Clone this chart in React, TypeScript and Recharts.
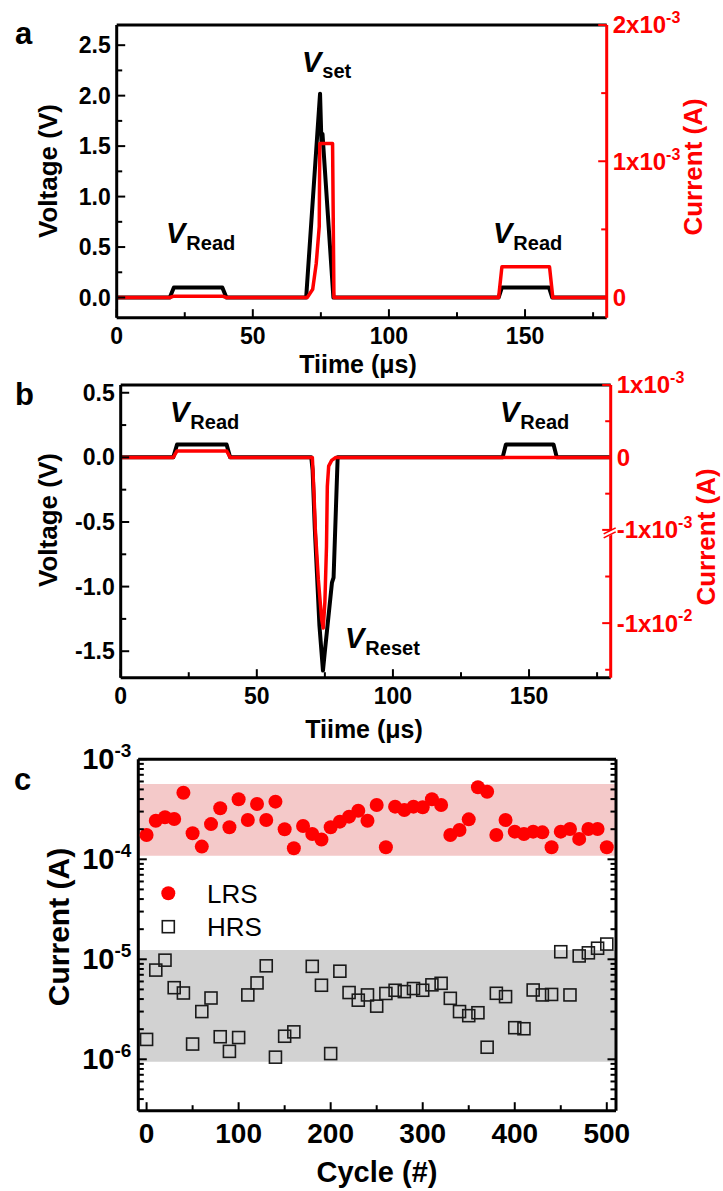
import React from 'react';
import { LineChart, Line, XAxis, YAxis, ReferenceLine, ReferenceArea, ScatterChart, Scatter } from 'recharts';

const FONT = '"Liberation Sans", Arial, Helvetica, sans-serif';
const RED = '#ff0000';

// ---------- Panel a ----------
const timeA_V = [0, 19.5, 21, 38.8, 40.3, 69.6, 74.7, 75.2, 75.6, 79.6, 140.3, 141.5, 158.8, 160, 180];
const voltA = [0, 0, 0.1, 0.1, 0, 0, 2.02, 1.55, 1.62, 0, 0, 0.1, 0.1, 0, 0];
const timeA_I = [0, 19.5, 21, 38.8, 40.3, 70.0, 72.0, 73.3, 74.4, 74.6, 79.3, 79.8, 140.3, 141.5, 159.0, 160.2, 180];
const currA = [0, 0, 0.01e-3, 0.01e-3, 0, 0, 0.06e-3, 0.25e-3, 0.52e-3, 1.13e-3, 1.13e-3, 0, 0, 0.225e-3, 0.225e-3, 0, 0];

// ---------- Panel b ----------
const timeB_V = [0, 19.3, 20.7, 38.9, 40.2, 70.0, 70.5, 71.3, 73.0, 74.3, 75.0, 77.6, 78.2, 79.7, 140.3, 141.5, 159.0, 160.2, 180];
const voltB = [0, 0, 0.1, 0.1, 0, 0, -0.1, -0.55, -1.3, -1.65, -1.5, -0.97, -0.93, 0, 0, 0.1, 0.1, 0, 0];
const timeB_I = [0, 19.3, 20.7, 38.9, 40.2, 70.4, 71.0, 71.5, 72.6, 73.8, 74.4, 75.0, 75.6, 75.9, 76.4, 77.5, 79.0, 180];
const currB = [0, 0, 0.09e-3, 0.09e-3, 0, 0, -0.5e-3, -1.0e-3, -3.4e-3, -9e-3, -1.13e-2, -6e-3, -1.5e-3, -0.4e-3, -0.12e-3, -0.04e-3, 0, 0];

// ---------- Panel c ----------
const cycles = [0, 10, 20, 30, 40, 50, 60, 70, 80, 90, 100, 110, 120, 130, 140, 150, 160, 170, 180, 190, 200, 210, 220, 230, 240, 250, 260, 270, 280, 290, 300, 310, 320, 330, 340, 350, 360, 370, 380, 390, 400, 410, 420, 430, 440, 450, 460, 470, 480, 490, 500];
const lrsCurrent = [1.75e-4, 2.43e-4, 2.63e-4, 2.53e-4, 4.63e-4, 1.82e-4, 1.34e-4, 2.25e-4, 3.24e-4, 2.09e-4, 3.98e-4, 2.47e-4, 3.57e-4, 2.47e-4, 3.77e-4, 2.0e-4, 1.29e-4, 2.15e-4, 1.79e-4, 1.58e-4, 2.09e-4, 2.38e-4, 2.67e-4, 3.06e-4, 2.43e-4, 3.49e-4, 1.32e-4, 3.36e-4, 3.11e-4, 3.36e-4, 3.31e-4, 3.98e-4, 3.49e-4, 1.75e-4, 1.96e-4, 2.51e-4, 5.25e-4, 4.74e-4, 1.75e-4, 2.47e-4, 1.89e-4, 1.79e-4, 1.89e-4, 1.86e-4, 1.32e-4, 1.89e-4, 2.01e-4, 1.6e-4, 2.01e-4, 2.01e-4, 1.32e-4];
const hrsCurrent: (number | null)[] = [1.58e-6, 7.8e-6, 9.8e-6, 5.2e-6, 4.6e-6, 1.42e-6, 3.0e-6, 4.1e-6, 1.68e-6, 1.2e-6, 1.65e-6, 4.4e-6, 5.8e-6, 8.6e-6, 1.05e-6, 1.7e-6, 1.88e-6, null, 8.5e-6, 5.5e-6, 1.14e-6, 7.6e-6, 4.65e-6, 3.9e-6, 4.4e-6, 3.4e-6, 4.55e-6, 4.9e-6, 4.75e-6, 5.1e-6, 4.9e-6, 5.55e-6, 5.75e-6, 4.07e-6, 3.0e-6, 2.73e-6, 2.92e-6, 1.32e-6, 4.57e-6, 4.23e-6, 2.07e-6, 2.02e-6, 4.93e-6, 4.4e-6, 4.45e-6, 1.19e-5, 4.4e-6, 1.08e-5, 1.16e-5, 1.29e-5, 1.42e-5];
const lrsBand = [1.086e-4, 5.66e-4];
const hrsBand = [9.46e-7, 1.24e-5];

// ---------- tick values ----------
const timeTicks = [0, 25, 50, 75, 100, 125, 150, 175];
const voltTicksA = [0, 0.25, 0.5, 0.75, 1.0, 1.25, 1.5, 1.75, 2.0, 2.25, 2.5];
const currTicksA = [0, 0.5e-3, 1e-3, 1.5e-3, 2e-3];
const voltTicksB = [0.5, 0.25, 0, -0.25, -0.5, -0.75, -1.0, -1.25, -1.5];
const currMajorB = [1e-3, 0, -1e-3, -1e-2];
const currMajorLabelsB: [string, string][] = [['1x10', '-3'], ['0', ''], ['-1x10', '-3'], ['-1x10', '-2']];
const currMinorB = [0.5e-3, -0.5e-3, -Math.pow(10, -2.5), -Math.pow(10, -1.5)];
const cycleTicks = [0, 50, 100, 150, 200, 250, 300, 350, 400, 450, 500];
const logTicksC: number[] = [];
for (let e = -7; e <= -4; e++) for (let m = 1; m <= 9; m++) {
  const v = m * Math.pow(10, e);
  if (v >= 3.06e-7 && v <= 1e-3 * 1.0001) logTicksC.push(v);
}
logTicksC.push(1e-3);

// broken right axis of panel b: linear above -1e-3, log below
const DECADE = 93.3 / 72.5;
function brokenAxis(I: number) {
  if (I >= -1e-3) return I / 1e-3;
  return -1 - DECADE * Math.log10(-I / 1e-3);
}

const voltDataA = timeA_V.map((t, i) => ({ t, v: voltA[i] }));
const currDataA = timeA_I.map((t, i) => ({ t, i: currA[i] }));
const voltDataB = timeB_V.map((t, i) => ({ t, v: voltB[i] }));
const currDataB = timeB_I.map((t, i) => ({ t, u: brokenAxis(currB[i]) }));
const lrsData = cycles.map((c, i) => ({ x: c, y: lrsCurrent[i] }));
const hrsData = cycles.map((c, i) => ({ x: c, y: hrsCurrent[i] })).filter((d) => d.y !== null);

const near = (a: number, b: number, tol = 1e-6) => Math.abs(a - b) < tol;

type Lbl = { base: string; exp?: string } | null;
interface TickOpts {
  side: 'left' | 'right' | 'bottom';
  color: string;
  fs: number;
  sup?: number;
  gap: number;
  isMajor: (v: number) => boolean;
  label: (v: number) => Lbl;
  brk?: (v: number) => boolean;
  major?: number;
  minor?: number;
}

function makeTick(o: TickOpts) {
  return (props: any) => {
    const { x, y, payload } = props;
    const v = payload.value as number;
    const major = o.isMajor(v);
    const len = major ? (o.major ?? 7) : (o.minor ?? 4);
    const lbl = major ? o.label(v) : null;
    const sup = o.sup ?? Math.round(o.fs * 0.68);
    const textEl = (tx: number, ty: number, anchor: string, dy: string) =>
      lbl ? (
        <text x={tx} y={ty} dy={dy} textAnchor={anchor} fill={o.color} fontSize={o.fs} fontWeight="bold" fontFamily={FONT}>
          <tspan>{lbl.base}</tspan>
          {lbl.exp ? <tspan dy={-o.fs * 0.42} fontSize={sup}>{lbl.exp}</tspan> : null}
        </text>
      ) : null;
    if (o.side === 'left') {
      return (
        <g>
          <line x1={x} y1={y} x2={x + 1.5 + len} y2={y} stroke={o.color} strokeWidth={2} />
          {textEl(x - o.gap, y, 'end', '0.35em')}
        </g>
      );
    }
    if (o.side === 'right') {
      const isBrk = o.brk ? o.brk(v) : false;
      return (
        <g>
          <line x1={x} y1={y} x2={x - 1.5 - len} y2={y} stroke={o.color} strokeWidth={2} />
          {isBrk ? (
            <g>
              <line x1={x - 6} y1={y + 6} x2={x + 6} y2={y} stroke="#fff" strokeWidth={4} />
              <line x1={x - 7} y1={y + 4} x2={x + 5} y2={y - 2} stroke={o.color} strokeWidth={1.6} />
              <line x1={x - 7} y1={y + 8} x2={x + 5} y2={y + 2} stroke={o.color} strokeWidth={1.6} />
            </g>
          ) : null}
          {textEl(x + o.gap, y, 'start', '0.35em')}
        </g>
      );
    }
    return (
      <g>
        <line x1={x} y1={y} x2={x} y2={y - 1.5 - len} stroke={o.color} strokeWidth={2} />
        {textEl(x, y + o.gap, 'middle', '0.35em')}
      </g>
    );
  };
}

const isMult = (step: number) => (v: number) => near(v / step, Math.round(v / step));

const timeTick = makeTick({ side: 'bottom', color: '#000', fs: 23, gap: 18, isMajor: isMult(50), label: (v) => ({ base: String(Math.round(v)) }) });
const voltTick = makeTick({ side: 'left', color: '#000', fs: 23, gap: 6, isMajor: isMult(0.5), label: (v) => ({ base: v.toFixed(1) }) });
const currTickA = makeTick({
  side: 'right', color: RED, fs: 24, sup: 16, gap: 6,
  isMajor: (v) => near(v / 1e-3, Math.round(v / 1e-3)),
  label: (v) => {
    const k = Math.round(v / 1e-3);
    return k === 0 ? { base: '0' } : { base: `${k}x10`, exp: '-3' };
  },
});
const currMajorPosB = currMajorB.map(brokenAxis);
const currTickB = makeTick({
  side: 'right', color: RED, fs: 24, sup: 16, gap: 6,
  isMajor: (v) => currMajorPosB.some((m) => near(m, v)),
  label: (v) => {
    const idx = currMajorPosB.findIndex((m) => near(m, v));
    const [base, exp] = currMajorLabelsB[idx];
    return { base, exp: exp || undefined };
  },
  brk: (v) => near(v, -1),
});
const cycleTick = makeTick({ side: 'bottom', color: '#000', fs: 28, gap: 22, isMajor: isMult(100), label: (v) => ({ base: String(Math.round(v)) }) });
const isDecade = (v: number) => near(Math.log10(v), Math.round(Math.log10(v)));
const logTickL = makeTick({
  side: 'left', color: '#000', fs: 29, sup: 19, gap: 7, isMajor: isDecade,
  label: (v) => ({ base: '10', exp: String(Math.round(Math.log10(v))) }),
});
const logTickR = makeTick({ side: 'right', color: '#000', fs: 28, gap: 7, isMajor: isDecade, label: () => null });

const axisBlack = { stroke: '#000', strokeWidth: 3 };
const axisRed = { stroke: RED, strokeWidth: 3 };

function PanelA() {
  return (
    <LineChart width={723} height={370} margin={{ top: 25, right: 56.3, bottom: 22.3, left: 56.7 }}>
      <XAxis type="number" dataKey="t" domain={[0, 180]} ticks={timeTicks} interval={0} tickSize={0} tickMargin={0}
        axisLine={axisBlack} tickLine={false} tick={timeTick} height={30} allowDataOverflow />
      <YAxis yAxisId="l" type="number" domain={[-0.2, 2.7]} ticks={voltTicksA} interval={0} tickSize={0} tickMargin={0}
        axisLine={axisBlack} tickLine={false} tick={voltTick} width={60} allowDataOverflow />
      <YAxis yAxisId="r" orientation="right" type="number" domain={[-0.2 / 2.7 * 2e-3, 2e-3]} ticks={currTicksA} interval={0}
        tickSize={0} tickMargin={0} axisLine={axisRed} tickLine={false} tick={currTickA} width={60} allowDataOverflow />
      <ReferenceLine yAxisId="l" y={2.7} stroke="#000" strokeWidth={3} ifOverflow="visible" />
      <Line yAxisId="l" data={voltDataA} dataKey="v" type="linear" stroke="#000" strokeWidth={4} dot={false}
        strokeLinejoin="round" isAnimationActive={false} />
      <Line yAxisId="r" data={currDataA} dataKey="i" type="linear" stroke={RED} strokeWidth={3.5} dot={false}
        strokeLinejoin="round" isAnimationActive={false} />
    </LineChart>
  );
}

function PanelB() {
  return (
    <LineChart width={723} height={370} margin={{ top: 15, right: 52.3, bottom: 32.3, left: 60.7 }}>
      <XAxis type="number" dataKey="t" domain={[0, 180]} ticks={timeTicks} interval={0} tickSize={0} tickMargin={0}
        axisLine={axisBlack} tickLine={false} tick={timeTick} height={30} allowDataOverflow />
      <YAxis yAxisId="l" type="number" domain={[-1.705, 0.56]} ticks={voltTicksB} interval={0} tickSize={0} tickMargin={0}
        axisLine={axisBlack} tickLine={false} tick={voltTick} width={60} allowDataOverflow />
      <YAxis yAxisId="r" orientation="right" type="number" domain={[-3.04, 1]}
        ticks={[...currMajorB, ...currMinorB].map(brokenAxis)} interval={0}
        tickSize={0} tickMargin={0} axisLine={axisRed} tickLine={false} tick={currTickB} width={60} allowDataOverflow />
      <ReferenceLine yAxisId="l" y={0.56} stroke="#000" strokeWidth={3} ifOverflow="visible" />
      <Line yAxisId="l" data={voltDataB} dataKey="v" type="linear" stroke="#000" strokeWidth={4} dot={false}
        strokeLinejoin="round" isAnimationActive={false} />
      <Line yAxisId="r" data={currDataB} dataKey="u" type="linear" stroke={RED} strokeWidth={3.5} dot={false}
        strokeLinejoin="round" isAnimationActive={false} />
    </LineChart>
  );
}

const RedDot = (p: any) => <circle cx={p.cx} cy={p.cy} r={7} fill={RED} />;
const HollowSquare = (p: any) => (
  <rect x={p.cx - 6} y={p.cy - 6} width={12} height={12} fill="none" stroke="#1a1a1a" strokeWidth={1.6} />
);

function PanelC() {
  const yDomain = [3.06e-7, 1e-3];
  return (
    <ScatterChart width={723} height={451} margin={{ top: 19.3, right: 47, bottom: 50.3, left: 78.3 }}>
      <XAxis type="number" dataKey="x" domain={[-9, 510]} ticks={cycleTicks} interval={0} tickSize={0} tickMargin={0}
        axisLine={axisBlack} tickLine={false} tick={cycleTick} height={30} allowDataOverflow />
      <YAxis yAxisId="l" type="number" dataKey="y" scale="log" domain={yDomain} ticks={logTicksC} interval={0}
        tickSize={0} tickMargin={0} axisLine={axisBlack} tickLine={false} tick={logTickL} width={60} allowDataOverflow />
      <YAxis yAxisId="r" orientation="right" type="number" dataKey="y" scale="log" domain={yDomain} ticks={logTicksC}
        interval={0} tickSize={0} tickMargin={0} axisLine={axisBlack} tickLine={false} tick={logTickR} width={60}
        allowDataOverflow />
      <ReferenceArea yAxisId="l" y1={lrsBand[0]} y2={lrsBand[1]} fill="#f4c9c9" fillOpacity={1} stroke="none" ifOverflow="visible" />
      <ReferenceArea yAxisId="l" y1={hrsBand[0]} y2={hrsBand[1]} fill="#d2d2d2" fillOpacity={1} stroke="none" ifOverflow="visible" />
      <ReferenceLine yAxisId="l" y={1e-3} stroke="#000" strokeWidth={3} ifOverflow="visible" />
      <Scatter yAxisId="l" data={lrsData} shape={RedDot} isAnimationActive={false} />
      <Scatter yAxisId="r" data={hrsData} shape={HollowSquare} isAnimationActive={false} />
    </ScatterChart>
  );
}

function VSub({ x, y, sub, fs = 29, subFs = 20, dy = 7 }: { x: number; y: number; sub: string; fs?: number; subFs?: number; dy?: number }) {
  return (
    <text x={x} y={y} fontFamily={FONT} fontWeight="bold" fontSize={fs} fill="#000">
      <tspan fontStyle="italic">V</tspan>
      <tspan dx={1} dy={dy} fontSize={subFs}>{sub}</tspan>
    </text>
  );
}

function Overlay() {
  const title = { fontFamily: FONT, fontWeight: 'bold' as const };
  return (
    <svg width={723} height={1191} style={{ position: 'absolute', left: 0, top: 0, pointerEvents: 'none' }}>
      {/* panel letters */}
      <text x={15} y={44} {...title} fontSize={31} fill="#000">a</text>
      <text x={15} y={405} {...title} fontSize={31} fill="#000">b</text>
      <text x={14} y={790} {...title} fontSize={31} fill="#000">c</text>

      {/* panel a titles */}
      <text transform="translate(48,171) rotate(-90)" textAnchor="middle" dominantBaseline="central" {...title} fontSize={26} fill="#000">Voltage (V)</text>
      <text transform="translate(693,167) rotate(-90)" textAnchor="middle" dominantBaseline="central" {...title} fontSize={26} fill={RED}>Current (A)</text>
      <text x={358} y={364} textAnchor="middle" dominantBaseline="central" {...title} fontSize={25} fill="#000">Tiime (μs)</text>
      <VSub x={302} y={72} sub="set" dy={6} />
      <VSub x={166} y={243} sub="Read" />
      <VSub x={493} y={243} sub="Read" />

      {/* panel b titles */}
      <text transform="translate(48,520) rotate(-90)" textAnchor="middle" dominantBaseline="central" {...title} fontSize={26} fill="#000">Voltage (V)</text>
      <text transform="translate(706,537) rotate(-90)" textAnchor="middle" dominantBaseline="central" {...title} fontSize={26} fill={RED}>Current (A)</text>
      <text x={364} y={729} textAnchor="middle" dominantBaseline="central" {...title} fontSize={25} fill="#000">Tiime (μs)</text>
      <VSub x={170} y={422} sub="Read" />
      <VSub x={500} y={422} sub="Read" />
      <VSub x={345} y={648} sub="Reset" />

      {/* panel c titles */}
      <text transform="translate(58,927) rotate(-90)" textAnchor="middle" dominantBaseline="central" {...title} fontSize={30} fill="#000">Current (A)</text>
      <text x={377} y={1172} textAnchor="middle" dominantBaseline="central" {...title} fontSize={29} fill="#000">Cycle (#)</text>

      {/* legend */}
      <circle cx={168.3} cy={893.3} r={7} fill={RED} />
      <text x={207} y={903} fontFamily={FONT} fontSize={26} fill="#000">LRS</text>
      <rect x={162.3} y={920.7} width={12} height={12} fill="none" stroke="#1a1a1a" strokeWidth={1.6} />
      <text x={207} y={936} fontFamily={FONT} fontSize={26} fill="#000">HRS</text>
    </svg>
  );
}

export default function App() {
  return (
    <div style={{ position: 'absolute', left: 0, top: 0, width: 723, height: 1191, background: '#fff', fontFamily: FONT, overflow: 'hidden' }}>
      <div style={{ position: 'absolute', left: 0, top: 0 }}><PanelA /></div>
      <div style={{ position: 'absolute', left: 0, top: 370 }}><PanelB /></div>
      <div style={{ position: 'absolute', left: 0, top: 740 }}><PanelC /></div>
      <Overlay />
    </div>
  );
}
